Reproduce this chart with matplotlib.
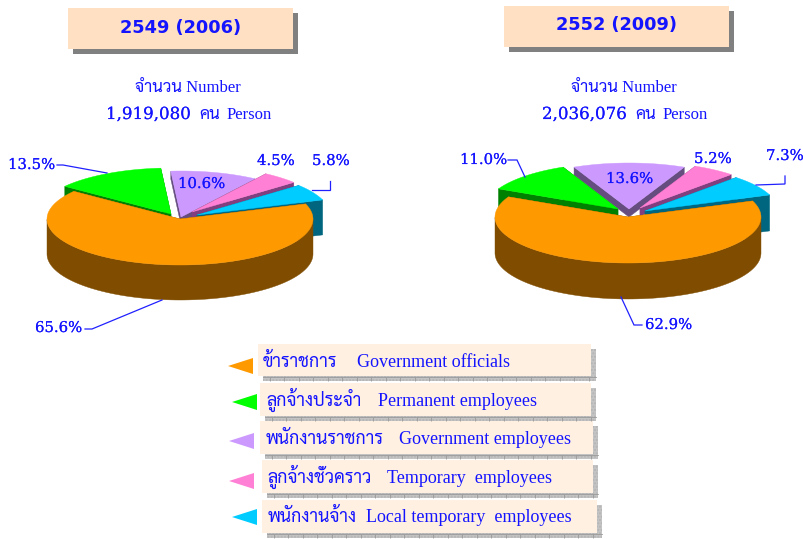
import numpy as np
import matplotlib
matplotlib.use("Agg")
import matplotlib.pyplot as plt
import matplotlib.patheffects as pe
from matplotlib.patches import Polygon, Rectangle

# data
years = ["2549 (2006)", "2552 (2009)"]
totals = ["1,919,080", "2,036,076"]
categories_th = ["ข้าราชการ", "ลูกจ้างประจำ", "พนักงานราชการ", "ลูกจ้างชั่วคราว", "พนักงานจ้าง"]
categories_en = ["Government officials", "Permanent employees", "Government employees",
                 "Temporary  employees", "Local temporary  employees"]
shares_2006 = [65.6, 13.5, 10.6, 4.5, 5.8]
shares_2009 = [62.9, 11.0, 13.6, 5.2, 7.3]

top_colors = ["#FF9900", "#00FF00", "#CC99FF", "#FF80D4", "#00CCFF"]
side_colors = ["#804D00", "#008000", "#664D80", "#804080", "#006680"]
BLUE = "#1414FF"
SERIF = ["Liberation Serif", "Sarabun", "DejaVu Sans"]
NUM = ["DejaVu Serif"]
HEAVY = [pe.withStroke(linewidth=0.1, foreground=BLUE)]

RX, RY = 133, 46


def draw_slice(ax, cx, cy, t0, t1, color, side, depth):
    th = np.radians(np.linspace(t0, t1, 120))
    xs = cx + RX * np.cos(th)
    ys = cy - RY * np.sin(th)
    # radial walls
    for i in (0, -1):
        wall = [(cx, cy), (xs[i], ys[i]), (xs[i], ys[i] + depth), (cx, cy + depth)]
        ax.add_patch(Polygon(wall, fc=side, ec=side, lw=0.3))
    # outer wall, only the part that faces the viewer
    front = np.sin(th) <= 0
    if front.any():
        fx, fy = xs[front], ys[front]
        ring = np.r_[np.c_[fx, fy], np.c_[fx[::-1], fy[::-1] + depth]]
        ax.add_patch(Polygon(ring, fc=side, ec=side, lw=0.3))
    ax.add_patch(Polygon(np.r_[[(cx, cy)], np.c_[xs, ys]], fc=color, ec=color, lw=0.3))


def draw_pie(ax, shares, cx, cy, start, offsets, depths):
    spans = np.array(shares) / 100 * 360
    starts = start + np.r_[0, np.cumsum(spans[[0, 4, 3, 2]])]
    # counter-clockwise round the pie: orange, blue, pink, purple, green
    order = [0, 4, 3, 2, 1]
    angle = dict(zip(order, starts))
    for i in [2, 1, 3, 4, 0]:
        draw_slice(ax, cx + offsets[i][0], cy + offsets[i][1], angle[i], angle[i] + spans[i],
                   top_colors[i], side_colors[i], depths[i])


def box(ax, x0, y0, x1, y1, color, shadow):
    ax.add_patch(Rectangle((x0 + 5, y0 + 5), x1 - x0, y1 - y0, fc=shadow, ec="none"))
    ax.add_patch(Rectangle((x0, y0), x1 - x0, y1 - y0, fc=color, ec="none"))


def leader(ax, pts):
    ax.plot(*zip(*pts), color="#2020FF", lw=0.9, solid_joinstyle="miter")


def pct(ax, x, y, value):
    ax.text(x, y, f"{value:.1f}%", family=NUM, fontsize=10.7, color=BLUE, ha="left", va="baseline",
            path_effects=HEAVY)


fig = plt.figure(figsize=(8.04, 5.39), dpi=100)
ax = fig.add_axes([0, 0, 1, 1])
ax.set_xlim(0, 804)
ax.set_ylim(539, 0)
ax.axis("off")

# headers
box(ax, 68, 8, 293, 49, "#FFE0C2", "#808080")
box(ax, 504, 6, 729, 47, "#FFE0C2", "#808080")
ax.text(180.5, 33, years[0], family="DejaVu Sans", weight="bold", fontsize=12.8, color=BLUE, ha="center", va="baseline")
ax.text(616.5, 30, years[1], family="DejaVu Sans", weight="bold", fontsize=12.8, color=BLUE, ha="center", va="baseline")

for shift, total in zip((0, 436), totals):
    ax.text(188 + shift, 92, "จำนวน Number", family=SERIF, fontsize=12, color=BLUE, ha="center", va="baseline")
    ax.text(106 + shift, 119, total, family=NUM, fontsize=12, color=BLUE, ha="left", va="baseline",
            path_effects=HEAVY)
    ax.text(199 + shift, 119, "คน", family=SERIF, fontsize=12, color=BLUE, ha="left", va="baseline")
    ax.text(227 + shift, 119, "Person", family=SERIF, fontsize=12, color=BLUE, ha="left", va="baseline")

# pies
draw_pie(ax, shares_2006, 180, 219, 143,
         [(0, 0), (-9, -5), (1, -2), (12, -7), (17, -4)], [35, 35, 8, 8, 35])
draw_pie(ax, shares_2009, 628, 217, 154,
         [(0, 0), (-10, -8), (1, -8), (12, -9), (17, -6)], [36, 36, 8, 8, 36])

# value labels
for (x, y), v in zip([(35, 332), (8, 169), (178, 188), (257, 165), (312, 165)], shares_2006):
    pct(ax, x, y, v)
for (x, y), v in zip([(645, 329), (460, 164), (606, 183), (694, 163), (766, 160)], shares_2009):
    pct(ax, x, y, v)

leader(ax, [(57, 165), (63, 165), (107, 173)])
leader(ax, [(85, 329), (92, 329), (162, 300)])
leader(ax, [(330, 181), (330, 190), (312, 190)])
leader(ax, [(508, 160), (517, 160), (525, 177)])
leader(ax, [(621, 297), (634, 325), (642, 325)])
leader(ax, [(785, 176), (785, 184), (756, 185)])

# legend
rows = [(258, 344, 591, 376, 263, 357, 367, 228, 253, 366),
        (260, 383, 591, 416, 266, 378, 406, 232, 257, 402),
        (260, 421, 593, 454, 266, 399, 444, 229, 254, 441),
        (262, 460, 593, 493, 267, 387, 483, 229, 254, 481),
        (262, 500, 597, 533, 268, 366, 522, 232, 257, 517)]
for i, (x0, y0, x1, y1, tx, ex, ty, tip, base, my) in enumerate(rows):
    ax.add_patch(Rectangle((x0 + 5, y0 + 5), x1 - x0, y1 - y0, fc="#C4C4C4", ec="#B4B4B4", lw=0, hatch="....."))
    ax.vlines(np.arange(x0 + 12, x1 + 5, 14.5), y1 + 1, y1 + 5, color="#9A9A9A", lw=0.6)
    ax.plot([x0 + 5, x1 + 5], [y1 + 1, y1 + 1], color="#9A9A9A", lw=0.6)
    ax.add_patch(Rectangle((x0, y0), x1 - x0, y1 - y0, fc="#FFF0E1", ec="none"))
    ax.add_patch(Polygon([(tip, my), (base, my - 8), (base, my + 8)], fc=top_colors[i], ec="none"))
    ax.text(tx, ty, categories_th[i], family=SERIF, fontsize=12.8, color=BLUE, ha="left", va="baseline")
    ax.text(ex, ty, categories_en[i], family=SERIF, fontsize=13, color=BLUE, ha="left", va="baseline")

fig.savefig("out.png", dpi=100)
